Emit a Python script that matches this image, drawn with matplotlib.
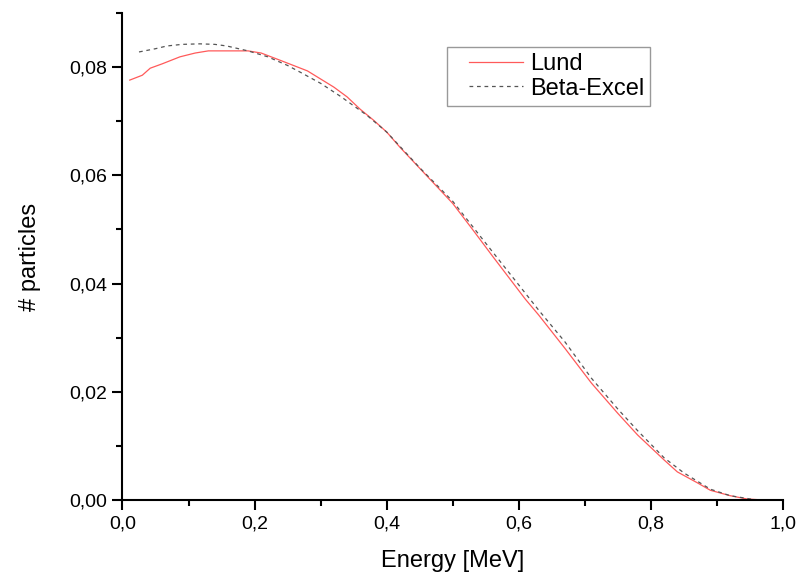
import numpy as np
import matplotlib
matplotlib.use("Agg")
import matplotlib.pyplot as plt
from matplotlib.ticker import MultipleLocator, FuncFormatter
from matplotlib.legend_handler import HandlerLine2D

plt.rcParams['font.family'] = ['Liberation Sans', 'DejaVu Sans']

# Lund spectrum
lund_e = [0.011, 0.03, 0.042, 0.06, 0.087, 0.11, 0.13, 0.16, 0.19, 0.21, 0.24,
          0.28, 0.30, 0.32, 0.34, 0.36, 0.38, 0.40, 0.42, 0.45, 0.50, 0.53,
          0.56, 0.61, 0.63, 0.67, 0.71, 0.75, 0.78, 0.82, 0.84, 0.87, 0.89,
          0.92, 0.945, 0.97]
lund_n = [0.0776, 0.0785, 0.0798, 0.0806, 0.0819, 0.0826, 0.0830, 0.0830,
          0.0830, 0.0826, 0.0812, 0.0793, 0.0778, 0.0763, 0.0745, 0.0722,
          0.0702, 0.0680, 0.0652, 0.0613, 0.0548, 0.0500, 0.0451, 0.0371,
          0.0342, 0.0280, 0.0216, 0.0160, 0.0120, 0.0074, 0.0052, 0.0032,
          0.0018, 0.0008, 0.0002, 0.0]

# Beta-Excel spectrum
beta_e = [0.025, 0.05, 0.067, 0.09, 0.117, 0.14, 0.158, 0.19, 0.22, 0.25, 0.27,
          0.30, 0.33, 0.37, 0.40, 0.45, 0.50, 0.56, 0.61, 0.63, 0.67, 0.71,
          0.75, 0.78, 0.82, 0.85, 0.89, 0.92, 0.96]
beta_n = [0.0828, 0.0834, 0.0839, 0.0842, 0.0843, 0.0842, 0.0839, 0.0830,
          0.0819, 0.0803, 0.0790, 0.0770, 0.0746, 0.0711, 0.0680, 0.0614,
          0.0552, 0.0459, 0.0382, 0.0351, 0.0292, 0.0225, 0.0168, 0.0128,
          0.0078, 0.0050, 0.0020, 0.0008, 0.0]


class ShiftedLine(HandlerLine2D):
    # leave a blank strip on the left of the legend handle
    def create_artists(self, legend, orig, xdescent, ydescent, width, height,
                       fontsize, trans):
        shift = width * 0.23
        return super().create_artists(legend, orig, xdescent - shift, ydescent,
                                      width - shift, height, fontsize, trans)


fig = plt.figure(figsize=(7.99, 5.75), dpi=100)
ax = fig.add_axes([0.1533, 0.1304, 0.8267, 0.847])

ax.plot(lund_e, lund_n, color='#ff5a5a', lw=0.9, label='Lund')
ax.plot(beta_e, beta_n, color='#555555', lw=0.9, ls=(0, (3, 3)), label='Beta-Excel')

ax.set_xlim(0, 1.0)
ax.set_ylim(0, 0.09)
ax.xaxis.set_major_locator(MultipleLocator(0.2))
ax.xaxis.set_minor_locator(MultipleLocator(0.1))
ax.yaxis.set_major_locator(MultipleLocator(0.02))
ax.yaxis.set_minor_locator(MultipleLocator(0.01))
ax.xaxis.set_major_formatter(FuncFormatter(lambda v, p: f'{v:.1f}'.replace('.', ',')))
ax.yaxis.set_major_formatter(FuncFormatter(lambda v, p: f'{v:.2f}'.replace('.', ',')))

for s in ['top', 'right']:
    ax.spines[s].set_visible(False)
for s in ['left', 'bottom']:
    ax.spines[s].set_linewidth(1.5)
ax.tick_params(which='major', direction='out', length=7, width=1.5, labelsize=14, pad=4)
ax.tick_params(which='minor', direction='out', length=4, width=1.5)

ax.set_xlabel('Energy [MeV]', fontsize=17, labelpad=13)
ax.set_ylabel('# particles', fontsize=17, labelpad=20)

leg = ax.legend(loc='upper left', bbox_to_anchor=(447/799, 1 - 47/575),
                bbox_transform=fig.transFigure, fontsize=17, frameon=True,
                fancybox=False, handlelength=2.97, handletextpad=0.3,
                borderpad=0.25, labelspacing=0.12, borderaxespad=0,
                handler_map={plt.Line2D: ShiftedLine()})
leg.get_frame().set_edgecolor('#808080')
leg.get_frame().set_linewidth(1.0)

fig.savefig('out.png', dpi=100)
